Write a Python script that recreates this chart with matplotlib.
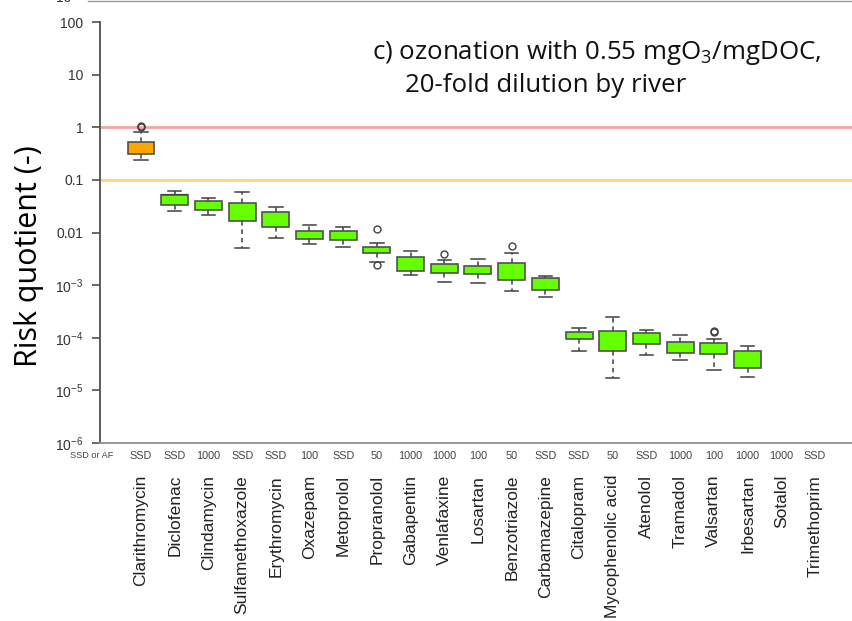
import matplotlib
matplotlib.use("Agg")
import matplotlib.pyplot as plt
import matplotlib.transforms as mtransforms
from matplotlib.lines import Line2D

plt.rcParams['mathtext.fontset'] = 'custom'
plt.rcParams['mathtext.rm'] = 'Open Sans'
plt.rcParams['mathtext.sf'] = 'Liberation Sans'

# compounds and the PNEC basis shown above each name
compounds = ['Clarithromycin', 'Diclofenac', 'Clindamycin', 'Sulfamethoxazole',
             'Erythromycin', 'Oxazepam', 'Metoprolol', 'Propranolol', 'Gabapentin',
             'Venlafaxine', 'Losartan', 'Benzotriazole', 'Carbamazepine',
             'Citalopram', 'Mycophenolic acid', 'Atenolol', 'Tramadol', 'Valsartan',
             'Irbesartan', 'Sotalol', 'Trimethoprim']
basis = ['SSD', 'SSD', '1000', 'SSD', 'SSD', '100', 'SSD', '50', '1000', '1000',
         '100', '50', 'SSD', 'SSD', '50', 'SSD', '1000', '100', '1000', '1000', 'SSD']

# box statistics of the risk quotient (None = no data)
whislo = [0.235, 0.0251, 0.0211, 0.00511, 0.00792, 0.00609, 0.0054, 0.00274,
          0.00154, 0.00115, 0.0011, 0.000762, 0.000596, 5.65e-5, 1.73e-5, 4.6e-5,
          3.81e-5, 2.46e-5, 1.78e-5, None, None]
q1 = [0.306, 0.0331, 0.0271, 0.0164, 0.0126, 0.00769, 0.00726, 0.00407, 0.00189,
      0.00171, 0.00166, 0.001256, 0.00081, 9.45e-5, 5.48e-5, 7.69e-5, 5.18e-5,
      4.89e-5, 2.65e-5, None, None]
med = [0.393, 0.0485, 0.0317, 0.0286, 0.0202, 0.00944, 0.00877, 0.00464, 0.00257,
       0.00209, 0.00195, 0.001754, 0.00122, 0.000112, 0.000109, 0.000103, 7.45e-5,
       6.53e-5, 3.39e-5, None, None]
q3 = [0.518, 0.0513, 0.039, 0.0368, 0.0244, 0.0106, 0.01045, 0.00525, 0.00344,
      0.00249, 0.00235, 0.00268, 0.00137, 0.000128, 0.000136, 0.000121, 8.4e-5,
      8.03e-5, 5.72e-5, None, None]
whishi = [0.81, 0.0604, 0.045, 0.0596, 0.0309, 0.01377, 0.01262, 0.00623, 0.00454,
          0.00297, 0.0032, 0.00403, 0.00152, 0.000153, 0.000251, 0.000142, 0.000111,
          9.57e-5, 6.95e-5, None, None]
fliers = [[1.04, 0.99], [], [], [], [], [], [], [0.01176, 0.0024], [], [0.00393],
          [], [0.00558], [], [], [], [], [], [0.000134, 0.000128], [], [], []]

yticks = [100, 10, 1, 0.1, 0.01, 1e-3, 1e-4, 1e-5, 1e-6]
yticklabels = ['100', '10', '1', '0.1', '0.01', r'$\mathsf{10^{-3}}$',
               r'$\mathsf{10^{-4}}$', r'$\mathsf{10^{-5}}$', r'$\mathsf{10^{-6}}$']

fig = plt.figure(figsize=(8.52, 6.21), dpi=100)
ax = fig.add_axes([100 / 852, 178 / 621, 752 / 852, 421 / 621])

stats, pos, colors = [], [], []
for i in range(len(compounds)):
    if med[i] is None:
        continue
    stats.append(dict(whislo=whislo[i], q1=q1[i], med=med[i], q3=q3[i],
                      whishi=whishi[i], fliers=fliers[i]))
    pos.append(i)
    colors.append('#FFA500' if med[i] > 0.1 else '#66FF00')

bp = ax.bxp(stats, positions=pos, widths=0.8, capwidths=0.4, patch_artist=True,
            boxprops=dict(edgecolor='#505050', linewidth=1.2),
            medianprops=dict(color='black', linewidth=3, solid_capstyle='butt'),
            whiskerprops=dict(color='#404040', linewidth=1.1, linestyle=(0, (3, 2.5))),
            capprops=dict(color='#404040', linewidth=1.1),
            flierprops=dict(marker='o', markerfacecolor='none', markeredgecolor='#404040',
                            markersize=5, markeredgewidth=1))
for patch, c in zip(bp['boxes'], colors):
    patch.set_facecolor(c)
    patch.set_zorder(3)

# threshold lines
ax.axhline(1, color='#F5A3A3', linewidth=2, zorder=1)
ax.axhline(0.1, color='#FFD27F', linewidth=2, zorder=1)

ax.set_yscale('log')
ax.set_ylim(1e-6, 100)
ax.set_xlim(-1.217, 21.1)
ax.set_yticks(yticks)
ax.set_yticklabels(yticklabels)
ax.yaxis.set_minor_locator(plt.NullLocator())
ax.tick_params(axis='y', length=6, width=1.2, color='#505050', pad=6, labelsize=10,
               labelcolor='#333333')
for t in ax.get_yticklabels():
    t.set_fontfamily('Liberation Sans')

ax.set_xticks(range(len(compounds)))
ax.set_xticklabels(compounds, rotation=90, fontsize=12.5, fontfamily='Liberation Sans',
                   color='#222222')
ax.tick_params(axis='x', length=0, pad=23)

for s in ['top', 'right']:
    ax.spines[s].set_visible(False)
ax.spines['left'].set_color('#505050')
ax.spines['left'].set_linewidth(1.3)
ax.spines['bottom'].set_color('#909090')
ax.spines['bottom'].set_linewidth(1.3)

# PNEC basis row under the axis
trans = mtransforms.blended_transform_factory(ax.transData, ax.transAxes)
ax.text(-1.47, -0.03, 'SSD or AF', transform=trans, ha='center', va='center',
        fontsize=6.6, fontfamily='Liberation Sans', color='#444444')
for i, b in enumerate(basis):
    ax.text(i, -0.03, b, transform=trans, ha='center', va='center',
            fontsize=7.8, fontfamily='Liberation Sans', color='#444444')

ax.set_ylabel('Risk quotient (-)', fontsize=22, fontfamily='Open Sans')
ax.yaxis.set_label_coords(-0.075, 0.445)

fig.text(372 / 852, 1 - 59 / 621, 'c) ozonation with 0.55 mgO$_{3}$/mgDOC,',
         fontsize=18.6, fontfamily='Open Sans', va='baseline', ha='left', color='#111111')
fig.text(405 / 852, 1 - 92 / 621, '20-fold dilution by river',
         fontsize=18.6, fontfamily='Open Sans', va='baseline', ha='left', color='#111111')

# edge of the panel above
fig.add_artist(Line2D([88 / 852, 1], [1 - 0.6 / 621] * 2, color='#9a9a9a', linewidth=1))
fig.text(64 / 852, 1 + 2 / 621, '10', fontsize=10, fontfamily='Liberation Sans',
         ha='center', va='center', color='#333333')

fig.savefig('out.png', dpi=100)
